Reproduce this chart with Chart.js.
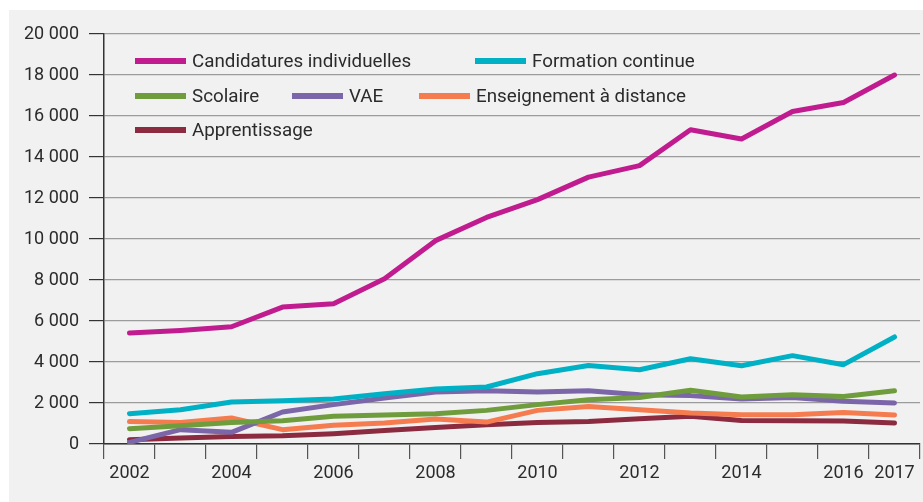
<!DOCTYPE html>
<html>
<head>
<meta charset="utf-8">
<script src="https://cdn.jsdelivr.net/npm/chart.js@4/dist/chart.umd.min.js"></script>
<style>
  html, body { margin: 0; padding: 0; background: #ffffff; }
  #bg { position: absolute; left: 9px; top: 10px; right: 0; bottom: 0; background: #f1f1f1; }
  #box { position: absolute; left: 0; top: 0; width: 923px; height: 502px; }
</style>
</head>
<body>
<div id="bg"></div>
<div id="box"><canvas id="c" width="923" height="502"></canvas></div>
<script>
const years = ['2002','2003','2004','2005','2006','2007','2008','2009','2010','2011','2012','2013','2014','2015','2016','2017'];
const xTickLabels = ['2002','','2004','','2006','','2008','','2010','','2012','','2014','','2016','2017'];
const seriesNames = ['Candidatures individuelles','Formation continue','Scolaire','VAE','Enseignement à distance','Apprentissage'];

const candidaturesIndividuelles = [5410,5540,5720,6680,6840,8060,9920,11050,11920,13020,13580,15330,14880,16220,16660,18000];
const formationContinue        = [1480,1670,2050,2110,2200,2450,2680,2780,3430,3830,3620,4160,3820,4310,3870,5220];
const scolaire                  = [745,890,1050,1135,1350,1420,1480,1640,1920,2160,2270,2620,2290,2400,2320,2600];
const vae                       = [80,700,570,1560,1920,2240,2540,2600,2540,2600,2400,2360,2190,2270,2080,2000];
const enseignementDistance      = [1100,1050,1270,700,910,1025,1220,1070,1640,1830,1670,1510,1430,1430,1540,1410];
const apprentissage             = [210,290,370,400,500,655,810,940,1050,1100,1230,1350,1150,1130,1120,1020];

const colors = ['#c01c8f','#00b1c6','#6f9c3d','#7b66a9','#f57c4f','#8c2b40'];
const values = [candidaturesIndividuelles, formationContinue, scolaire, vae, enseignementDistance, apprentissage];

const FONT = 'Roboto, "Liberation Sans", sans-serif';
const TEXT = '#2b2b2b';

function fmt(v) {
  return String(v).replace(/\B(?=(\d{3})+(?!\d))/g, ' ');
}

const legendPlugin = {
  id: 'customLegend',
  afterDraw(chart) {
    const ctx = chart.ctx;
    const rows = [
      { y: 61, items: [[0, 135], [1, 475]] },
      { y: 96, items: [[2, 135], [3, 292], [4, 419]] },
      { y: 130, items: [[5, 135]] }
    ];
    ctx.save();
    ctx.font = '18.8px ' + FONT;
    ctx.textBaseline = 'middle';
    ctx.textAlign = 'left';
    rows.forEach(r => {
      r.items.forEach(([i, x]) => {
        ctx.strokeStyle = colors[i];
        ctx.lineWidth = 6;
        ctx.lineCap = 'butt';
        ctx.beginPath();
        ctx.moveTo(x, r.y);
        ctx.lineTo(x + 51, r.y);
        ctx.stroke();
        ctx.fillStyle = TEXT;
        ctx.fillText(seriesNames[i], x + 57, r.y + 1);
      });
    });
    ctx.restore();
  }
};

new Chart(document.getElementById('c'), {
  type: 'line',
  data: {
    labels: years,
    datasets: seriesNames.map((n, i) => ({
      label: n,
      data: values[i],
      borderColor: colors[i],
      backgroundColor: colors[i],
      borderWidth: 5,
      pointRadius: 0,
      pointHoverRadius: 0,
      tension: 0,
      borderCapStyle: 'round',
      borderJoinStyle: 'round',
      fill: false
    }))
  },
  options: {
    responsive: false,
    animation: false,
    events: [],
    layout: { padding: { top: 34, right: 3, left: 0, bottom: 0 } },
    plugins: {
      legend: { display: false },
      tooltip: { enabled: false },
      title: { display: false }
    },
    scales: {
      x: {
        type: 'category',
        offset: true,
        grid: {
          offset: true,
          drawOnChartArea: false,
          drawTicks: true,
          tickLength: 15,
          color: '#555',
          tickColor: '#555',
          lineWidth: 1.2
        },
        border: { display: true, color: '#333', width: 1.5 },
        ticks: {
          autoSkip: false,
          maxRotation: 0,
          minRotation: 0,
          padding: 4,
          color: TEXT,
          font: { family: FONT, size: 18 },
          callback: (v, i) => xTickLabels[i]
        },
        afterFit: s => { s.height = 58; }
      },
      y: {
        min: 0,
        max: 20000,
        grid: {
          color: '#9c9c9c',
          tickColor: '#333',
          lineWidth: 1.2,
          tickLength: 15,
          drawTicks: true
        },
        border: { display: true, color: '#333', width: 1.5 },
        ticks: {
          stepSize: 2000,
          padding: 10,
          color: TEXT,
          font: { family: FONT, size: 18 },
          callback: v => fmt(v)
        },
        afterFit: s => { s.width = 104; }
      }
    }
  },
  plugins: [legendPlugin]
});
</script>
</body>
</html>
